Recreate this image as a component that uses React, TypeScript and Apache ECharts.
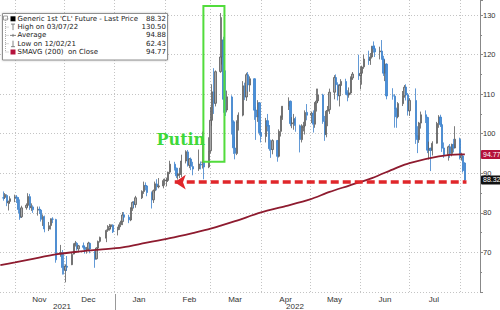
import { useEffect, useRef } from 'react';
import * as echarts from 'echarts';

type Row = [string, number, number, number, number]; // date, open, close, low, high

const oct21: Row[] = [
  ['2021-10-25', 83.8, 83.76, 83.08, 85.41],
  ['2021-10-26', 83.9, 84.65, 83.5, 85.0],
  ['2021-10-27', 84.4, 82.66, 81.7, 84.7],
  ['2021-10-28', 82.5, 82.81, 80.6, 83.1],
  ['2021-10-29', 82.9, 83.57, 82.3, 84.2],
];
const nov21: Row[] = [
  ['2021-11-01', 83.7, 84.05, 82.7, 84.6],
  ['2021-11-02', 84.0, 83.91, 82.5, 84.5],
  ['2021-11-03', 83.8, 80.86, 79.9, 84.0],
  ['2021-11-04', 81.0, 78.81, 78.25, 83.4],
  ['2021-11-05', 79.0, 81.27, 78.7, 81.8],
  ['2021-11-08', 81.3, 81.93, 80.8, 82.4],
  ['2021-11-09', 81.9, 84.15, 81.5, 84.97],
  ['2021-11-10', 84.1, 81.34, 80.75, 84.8],
  ['2021-11-11', 81.3, 81.59, 80.5, 82.4],
  ['2021-11-12', 81.5, 80.79, 80.0, 81.9],
  ['2021-11-15', 80.7, 80.88, 79.3, 81.6],
  ['2021-11-16', 80.9, 80.76, 79.7, 81.6],
  ['2021-11-17', 80.7, 78.36, 77.8, 80.9],
  ['2021-11-18', 78.3, 79.01, 76.7, 79.6],
  ['2021-11-19', 79.0, 75.94, 75.1, 79.3],
  ['2021-11-22', 75.9, 76.75, 75.4, 77.7],
  ['2021-11-23', 76.8, 78.5, 75.8, 78.6],
  ['2021-11-24', 78.4, 78.39, 77.4, 78.9],
  ['2021-11-26', 78.3, 68.15, 67.4, 78.5],
  ['2021-11-29', 69.6, 69.95, 68.9, 71.9],
  ['2021-11-30', 69.9, 66.18, 64.4, 70.6],
];
const dec21: Row[] = [
  ['2021-12-01', 66.6, 65.57, 64.43, 70.0],
  ['2021-12-02', 65.5, 66.5, 62.43, 67.0],
  ['2021-12-03', 66.5, 66.26, 65.3, 69.1],
  ['2021-12-06', 66.9, 69.49, 66.8, 70.0],
  ['2021-12-07', 69.6, 72.05, 69.5, 72.3],
  ['2021-12-08', 72.0, 72.36, 71.5, 72.9],
  ['2021-12-09', 72.3, 70.94, 70.5, 72.6],
  ['2021-12-10', 70.9, 71.67, 70.2, 71.9],
  ['2021-12-13', 71.7, 71.29, 70.7, 72.5],
  ['2021-12-14', 71.3, 70.73, 69.7, 71.5],
  ['2021-12-15', 70.7, 70.87, 69.7, 71.4],
  ['2021-12-16', 70.9, 72.38, 70.6, 72.7],
  ['2021-12-17', 72.3, 70.86, 69.8, 72.5],
  ['2021-12-20', 70.1, 68.23, 66.12, 70.4],
  ['2021-12-21', 68.4, 71.12, 68.2, 71.3],
  ['2021-12-22', 71.1, 72.76, 70.6, 73.0],
  ['2021-12-23', 72.8, 73.79, 72.5, 74.0],
  ['2021-12-27', 73.6, 75.57, 72.6, 75.8],
  ['2021-12-28', 75.6, 75.98, 75.2, 76.9],
  ['2021-12-29', 76.0, 76.56, 75.5, 77.2],
  ['2021-12-30', 76.5, 76.99, 75.8, 77.0],
  ['2021-12-31', 76.9, 75.21, 74.9, 77.1],
];
const jan22: Row[] = [
  ['2022-01-03', 75.7, 76.08, 74.3, 76.5],
  ['2022-01-04', 76.1, 76.99, 75.7, 77.6],
  ['2022-01-05', 77.0, 77.85, 76.4, 78.0],
  ['2022-01-06', 77.8, 79.46, 76.9, 80.2],
  ['2022-01-07', 79.5, 78.9, 78.1, 80.2],
  ['2022-01-10', 78.9, 78.23, 77.4, 79.5],
  ['2022-01-11', 78.2, 81.22, 77.9, 81.4],
  ['2022-01-12', 81.2, 82.64, 80.5, 82.9],
  ['2022-01-13', 82.6, 82.12, 81.2, 83.0],
  ['2022-01-14', 82.1, 83.82, 81.3, 84.3],
  ['2022-01-18', 83.8, 85.43, 83.5, 85.7],
  ['2022-01-19', 85.4, 86.96, 84.8, 87.9],
  ['2022-01-20', 86.9, 86.9, 85.7, 87.7],
  ['2022-01-21', 86.8, 85.14, 84.2, 87.0],
  ['2022-01-24', 85.1, 83.31, 81.1, 85.4],
  ['2022-01-25', 83.3, 85.6, 82.5, 85.9],
  ['2022-01-26', 85.6, 87.35, 85.0, 87.9],
  ['2022-01-27', 87.3, 86.61, 85.7, 88.5],
  ['2022-01-28', 86.6, 86.82, 86.2, 88.8],
  ['2022-01-31', 86.8, 88.15, 86.2, 88.6],
];
const feb22: Row[] = [
  ['2022-02-01', 88.1, 88.2, 86.9, 88.7],
  ['2022-02-02', 88.2, 88.26, 86.7, 88.9],
  ['2022-02-03', 88.2, 90.27, 87.8, 90.4],
  ['2022-02-04', 90.3, 92.31, 89.8, 93.17],
  ['2022-02-07', 92.3, 91.32, 90.7, 92.9],
  ['2022-02-08', 91.3, 89.36, 88.8, 91.4],
  ['2022-02-09', 89.4, 89.66, 88.4, 90.1],
  ['2022-02-10', 89.7, 89.88, 88.8, 91.4],
  ['2022-02-11', 89.9, 93.1, 89.0, 94.7],
  ['2022-02-14', 93.1, 95.46, 92.5, 95.82],
  ['2022-02-15', 95.4, 92.07, 91.7, 95.9],
  ['2022-02-16', 92.0, 93.66, 91.3, 93.8],
  ['2022-02-17', 93.6, 91.76, 90.8, 94.0],
  ['2022-02-18', 91.7, 91.07, 89.5, 92.9],
  ['2022-02-22', 91.1, 92.35, 90.6, 96.0],
  ['2022-02-23', 92.3, 92.1, 91.0, 93.0],
  ['2022-02-24', 92.8, 92.81, 91.2, 100.54],
  ['2022-02-25', 92.8, 91.59, 88.5, 94.0],
  ['2022-02-28', 91.6, 95.72, 91.3, 99.1],
];
const mar22: Row[] = [
  ['2022-03-01', 95.7, 103.41, 95.0, 106.78],
  ['2022-03-02', 103.4, 110.6, 102.0, 112.51],
  ['2022-03-03', 110.6, 107.67, 105.0, 116.57],
  ['2022-03-04', 107.7, 115.68, 106.9, 116.0],
  ['2022-03-07', 115.7, 119.4, 115.4, 130.5],
  ['2022-03-08', 119.4, 123.7, 117.5, 129.44],
  ['2022-03-09', 123.7, 108.7, 105.3, 124.5],
  ['2022-03-10', 108.7, 106.02, 104.5, 116.0],
  ['2022-03-11', 106.0, 109.33, 105.4, 110.9],
  ['2022-03-14', 109.3, 103.01, 99.8, 109.7],
  ['2022-03-15', 103.0, 96.44, 94.9, 103.4],
  ['2022-03-16', 96.4, 95.04, 93.53, 99.2],
  ['2022-03-17', 95.0, 102.98, 94.6, 103.4],
  ['2022-03-18', 103.0, 104.7, 100.8, 105.4],
  ['2022-03-21', 104.7, 112.12, 104.4, 113.3],
  ['2022-03-22', 112.1, 109.27, 108.5, 112.9],
  ['2022-03-23', 109.3, 114.93, 108.3, 115.4],
  ['2022-03-24', 114.9, 112.34, 110.7, 115.6],
  ['2022-03-25', 112.3, 113.9, 110.6, 114.5],
  ['2022-03-28', 113.9, 105.96, 103.5, 114.0],
  ['2022-03-29', 106.0, 104.24, 98.44, 106.8],
  ['2022-03-30', 104.2, 107.82, 103.0, 108.5],
  ['2022-03-31', 107.8, 100.28, 99.6, 108.0],
];
const apr22: Row[] = [
  ['2022-04-01', 100.3, 99.27, 97.8, 101.0],
  ['2022-04-04', 99.3, 103.28, 97.8, 104.0],
  ['2022-04-05', 103.3, 101.96, 100.6, 105.0],
  ['2022-04-06', 102.0, 96.23, 95.7, 102.2],
  ['2022-04-07', 96.2, 96.03, 93.9, 98.5],
  ['2022-04-08', 96.0, 98.26, 94.8, 98.6],
  ['2022-04-11', 98.3, 94.29, 92.93, 98.4],
  ['2022-04-12', 94.3, 100.6, 94.0, 101.1],
  ['2022-04-13', 100.6, 104.25, 99.3, 104.6],
  ['2022-04-14', 104.2, 106.95, 103.5, 106.9],
  ['2022-04-18', 106.9, 108.21, 106.0, 109.2],
  ['2022-04-19', 108.2, 102.56, 101.9, 108.4],
  ['2022-04-20', 102.5, 102.75, 101.4, 104.2],
  ['2022-04-21', 102.7, 103.79, 101.0, 105.0],
  ['2022-04-22', 103.8, 102.07, 100.5, 104.3],
  ['2022-04-25', 102.0, 98.54, 95.28, 102.3],
  ['2022-04-26', 98.5, 101.7, 97.8, 102.4],
  ['2022-04-27', 101.7, 102.02, 100.6, 103.0],
  ['2022-04-28', 102.0, 105.36, 99.8, 105.9],
  ['2022-04-29', 105.4, 104.69, 103.4, 107.5],
];
const may22: Row[] = [
  ['2022-05-02', 104.7, 105.17, 102.7, 105.6],
  ['2022-05-03', 105.2, 102.41, 100.3, 105.9],
  ['2022-05-04', 102.4, 107.81, 101.5, 108.0],
  ['2022-05-05', 107.8, 108.26, 105.6, 111.4],
  ['2022-05-06', 108.3, 109.77, 107.8, 111.4],
  ['2022-05-09', 109.8, 103.09, 102.5, 110.1],
  ['2022-05-10', 103.1, 99.76, 98.2, 104.5],
  ['2022-05-11', 99.8, 105.71, 99.1, 106.0],
  ['2022-05-12', 105.7, 106.13, 101.9, 107.0],
  ['2022-05-13', 106.1, 110.49, 105.0, 111.4],
  ['2022-05-16', 110.5, 114.2, 108.7, 114.8],
  ['2022-05-17', 114.2, 112.4, 111.2, 115.0],
  ['2022-05-18', 112.4, 109.59, 108.4, 113.0],
  ['2022-05-19', 109.6, 112.21, 106.9, 112.6],
  ['2022-05-20', 112.2, 113.23, 110.6, 113.8],
  ['2022-05-23', 113.2, 110.29, 109.9, 113.9],
  ['2022-05-24', 110.3, 109.77, 108.2, 111.0],
  ['2022-05-25', 109.8, 110.33, 109.1, 111.7],
  ['2022-05-26', 110.3, 114.09, 109.9, 114.5],
  ['2022-05-27', 114.1, 115.07, 113.6, 115.6],
  ['2022-05-31', 115.1, 114.67, 113.6, 119.98],
];
const jun22: Row[] = [
  ['2022-06-01', 114.7, 115.26, 111.2, 117.0],
  ['2022-06-02', 115.3, 116.87, 112.4, 117.2],
  ['2022-06-03', 116.9, 118.87, 116.4, 120.0],
  ['2022-06-06', 118.9, 118.5, 117.4, 120.99],
  ['2022-06-07', 118.5, 119.41, 117.4, 120.4],
  ['2022-06-08', 119.4, 122.11, 119.0, 122.2],
  ['2022-06-09', 122.1, 121.51, 120.5, 123.33],
  ['2022-06-10', 121.5, 120.67, 119.4, 122.3],
  ['2022-06-13', 120.7, 120.93, 118.8, 122.0],
  ['2022-06-14', 120.9, 118.93, 118.7, 123.68],
  ['2022-06-15', 118.9, 115.31, 114.6, 119.7],
  ['2022-06-16', 115.3, 117.59, 113.3, 118.7],
  ['2022-06-17', 117.6, 109.56, 108.7, 117.8],
  ['2022-06-21', 109.6, 109.52, 108.6, 111.5],
  ['2022-06-22', 109.5, 106.19, 101.53, 110.0],
  ['2022-06-23', 106.2, 104.27, 101.5, 106.6],
  ['2022-06-24', 104.3, 107.62, 103.9, 108.0],
  ['2022-06-27', 107.6, 109.57, 107.0, 110.8],
  ['2022-06-28', 109.6, 111.76, 109.1, 112.3],
  ['2022-06-29', 111.8, 109.78, 108.4, 112.5],
  ['2022-06-30', 109.8, 105.76, 104.6, 110.3],
];
const jul22: Row[] = [
  ['2022-07-01', 105.8, 108.43, 104.5, 109.0],
  ['2022-07-05', 108.4, 99.5, 97.43, 111.45],
  ['2022-07-06', 99.5, 98.53, 95.1, 101.9],
  ['2022-07-07', 98.5, 102.73, 97.7, 103.0],
  ['2022-07-08', 102.7, 104.79, 101.3, 105.6],
  ['2022-07-11', 104.8, 104.09, 102.7, 105.9],
  ['2022-07-12', 104.1, 95.84, 95.1, 104.3],
  ['2022-07-13', 95.8, 96.3, 93.5, 98.0],
  ['2022-07-14', 96.3, 95.78, 90.56, 96.5],
  ['2022-07-15', 95.8, 97.59, 94.5, 98.1],
  ['2022-07-18', 97.6, 102.6, 97.5, 103.0],
  ['2022-07-19', 102.6, 104.22, 101.5, 104.7],
  ['2022-07-20', 104.2, 102.26, 101.7, 104.8],
  ['2022-07-21', 102.3, 96.35, 95.4, 102.7],
  ['2022-07-22', 96.4, 94.7, 93.9, 97.8],
  ['2022-07-25', 94.7, 96.7, 93.2, 97.0],
  ['2022-07-26', 96.7, 94.98, 93.9, 97.4],
  ['2022-07-27', 95.0, 97.26, 94.3, 97.5],
  ['2022-07-28', 97.3, 96.42, 95.3, 98.7],
  ['2022-07-29', 96.4, 98.62, 96.3, 101.9],
];
const aug22: Row[] = [
  ['2022-08-01', 98.6, 93.89, 93.5, 99.0],
  ['2022-08-02', 93.9, 94.42, 93.2, 95.2],
  ['2022-08-03', 94.4, 90.66, 90.2, 94.9],
  ['2022-08-04', 92.6, 88.32, 87.8, 92.8],
];

// 200-day simple moving average
const sma200: [string, number][] = [
  ['2021-10-23', 66.8], ['2021-11-01', 67.5], ['2021-11-12', 68.4], ['2021-11-26', 69.5],
  ['2021-12-10', 70.2], ['2021-12-23', 70.7], ['2022-01-06', 71.3], ['2022-01-20', 72.4],
  ['2022-02-04', 73.6], ['2022-02-18', 74.9], ['2022-03-01', 76.0], ['2022-03-16', 77.9],
  ['2022-04-01', 80.1], ['2022-04-16', 81.7], ['2022-05-01', 83.4], ['2022-05-13', 85.3],
  ['2022-05-25', 86.9], ['2022-06-08', 88.8], ['2022-06-22', 91.2], ['2022-07-01', 92.6],
  ['2022-07-19', 94.3], ['2022-08-01', 94.8], ['2022-08-04', 94.77],
];

const monthStarts = [
  '2021-11-01', '2021-12-01', '2022-01-01', '2022-02-01', '2022-03-01',
  '2022-04-01', '2022-05-01', '2022-06-01', '2022-07-01', '2022-08-01',
];
const priceLevels = [60, 70, 80, 90, 100, 110, 120, 130];
const monthNames = ['Jan', 'Feb', 'Mar', 'Apr', 'May', 'Jun', 'Jul', 'Aug', 'Sep', 'Oct', 'Nov', 'Dec'];
const yearLabels = ['2021', '2022'];

const legendLabels = [
  "Generic 1st 'CL' Future - Last Price",
  'High on 03/07/22',
  'Average',
  'Low on 12/02/21',
  'SMAVG (200)  on Close',
];
const legendValues = ['88.32', '130.50', '94.88', '62.43', '94.77'];

const lastPrice = 88.32;
const smaLast = 94.77;

// annotations
const supportLevel = 87.75;
const supportFrom = '2022-02-07';
const supportTo = '2022-08-05';
const putinBox = { from: '2022-02-24 14:00', to: '2022-03-09 12:00', low: 92.9, high: 132.3 };
const putinText = 'Putin';
const putinAnchor: [string, number] = ['2022-02-10 18:00', 98.5];

const ts = (s: string): number => {
  const [d, t] = s.split(' ');
  const [y, m, dd] = d.split('-').map(Number);
  const [hh, mm] = (t || '0:0').split(':').map(Number);
  return new Date(y, m - 1, dd, hh, mm).getTime();
};

const FONT = 'Liberation Sans, Arial, sans-serif';
const LEGEND_FONT = 'DejaVu Sans, Verdana, sans-serif';
const DAY = 86400000;

export default function App() {
  const ref = useRef<HTMLDivElement>(null);

  useEffect(() => {
    if (!ref.current) return;
    const chart = echarts.init(ref.current, undefined, { renderer: 'svg' });
    const candles = [...oct21, ...nov21, ...dec21, ...jan22, ...feb22, ...mar22, ...apr22, ...may22, ...jun22, ...jul22, ...aug22];
    const xMin = ts('2021-10-22 19:00');
    const xMax = ts('2022-08-13 07:00');
    const labelShift = 15 * DAY;

    const legendEls: any[] = [
      {
        type: 'rect', z: 100,
        shape: { x: 2.5, y: 13.5, width: 165, height: 46.5 },
        style: { fill: '#fff', stroke: '#8f8f8f', lineWidth: 1, shadowBlur: 2, shadowColor: 'rgba(0,0,0,0.25)' },
      },
      { type: 'rect', z: 101, shape: { x: 3.5, y: 16, width: 4, height: 4 }, style: { fill: '#fff', stroke: '#888', lineWidth: 0.8 } },
      { type: 'line', z: 101, shape: { x1: 5.5, y1: 20, x2: 5.5, y2: 52 }, style: { stroke: '#999', lineWidth: 0.8, lineDash: [1, 1] } },
    ];
    legendLabels.forEach((lab, i) => {
      const y = 18.8 + i * 8.3;
      legendEls.push({ type: 'line', z: 101, shape: { x1: 5.5, y1: y, x2: 9.5, y2: y }, style: { stroke: '#999', lineWidth: 0.8, lineDash: [1, 1] } });
      legendEls.push({
        type: 'text', z: 101, x: 17.5, y,
        style: { text: lab, fill: '#222', fontSize: 7, fontFamily: LEGEND_FONT, verticalAlign: 'middle', align: 'left' },
      });
      legendEls.push({
        type: 'text', z: 101, x: 166, y,
        style: { text: legendValues[i], fill: '#222', fontSize: 7, fontFamily: LEGEND_FONT, verticalAlign: 'middle', align: 'right' },
      });
    });
    const iy = (i: number) => 18.8 + i * 8.3;
    legendEls.push(
      { type: 'rect', z: 101, shape: { x: 10.5, y: iy(0) - 2.5, width: 5, height: 5 }, style: { fill: '#000' } },
      { type: 'line', z: 101, shape: { x1: 13, y1: iy(1) - 3, x2: 13, y2: iy(1) + 3 }, style: { stroke: '#666', lineWidth: 0.8 } },
      { type: 'line', z: 101, shape: { x1: 11, y1: iy(1) - 3, x2: 15, y2: iy(1) - 3 }, style: { stroke: '#666', lineWidth: 0.8 } },
      { type: 'line', z: 101, shape: { x1: 10, y1: iy(2), x2: 16, y2: iy(2) }, style: { stroke: '#666', lineWidth: 0.8 } },
      { type: 'line', z: 101, shape: { x1: 13, y1: iy(2) - 1.5, x2: 13, y2: iy(2) + 1.5 }, style: { stroke: '#666', lineWidth: 0.8 } },
      { type: 'line', z: 101, shape: { x1: 13, y1: iy(3) - 3, x2: 13, y2: iy(3) + 3 }, style: { stroke: '#666', lineWidth: 0.8 } },
      { type: 'line', z: 101, shape: { x1: 11, y1: iy(3) + 3, x2: 15, y2: iy(3) + 3 }, style: { stroke: '#666', lineWidth: 0.8 } },
      { type: 'rect', z: 101, shape: { x: 10.5, y: iy(4) - 2.5, width: 5, height: 5 }, style: { fill: '#b5123c' } },
    );

    const yearEls: any[] = [
      { type: 'text', x: 62, y: 306.5, style: { text: yearLabels[0], fill: '#333', fontSize: 8, fontFamily: FONT, align: 'center', verticalAlign: 'middle' } },
      { type: 'text', x: 295, y: 306.5, style: { text: yearLabels[1], fill: '#333', fontSize: 8, fontFamily: FONT, align: 'center', verticalAlign: 'middle' } },
      { type: 'line', shape: { x1: 115.5, y1: 294, x2: 115.5, y2: 310 }, style: { stroke: '#999', lineWidth: 1 } },
    ];

    const option: any = {
      animation: false,
      backgroundColor: '#fff',
      grid: { left: 0, right: 20, top: 0, bottom: 18, containLabel: false, outerBoundsMode: 'none' },
      xAxis: [
        {
          type: 'time', min: xMin, max: xMax,
          axisLine: { show: false }, axisTick: { show: false }, axisLabel: { show: false }, splitLine: { show: false },
        },
        {
          type: 'time', position: 'bottom', min: xMin - labelShift, max: xMax - labelShift, splitNumber: 10,
          axisLine: { show: false }, axisTick: { show: false }, splitLine: { show: false },
          axisLabel: {
            show: true, fontSize: 8, color: '#333', fontFamily: FONT, margin: 3, hideOverlap: false,
            formatter: (v: number) => {
              const d = new Date(v);
              return d.getDate() === 1 && d.getHours() === 0 ? monthNames[d.getMonth()] : '';
            },
          },
        },
      ],
      yAxis: {
        type: 'value', position: 'right', min: 60, max: 133.8, interval: 10,
        axisLine: { show: true, lineStyle: { color: '#888', width: 1 } },
        axisTick: { show: true, inside: false, length: 3, lineStyle: { color: '#888' } },
        minorTick: { show: true, splitNumber: 2, length: 2, lineStyle: { color: '#888' } },
        splitLine: { show: false },
        axisLabel: {
          show: true, fontSize: 7.5, color: '#333', fontFamily: FONT, margin: 3,
          showMinLabel: false, showMaxLabel: false,
          formatter: (v: number) => (Math.abs(v % 10) < 1e-6 && v > 60 ? String(v) : ''),
        },
      },
      series: [
        {
          type: 'candlestick', xAxisIndex: 0, yAxisIndex: 0, z: 2,
          data: candles.map((r) => [ts(r[0]), r[1], r[2], r[3], r[4]]),
          barWidth: 1.8,
          itemStyle: {
            color: '#a8a8a8', color0: '#4a90d9',
            borderColor: '#5a5a5a', borderColor0: '#3b80cc', borderWidth: 0.8,
          },
          markArea: {
            silent: true, z: 4,
            itemStyle: { color: 'rgba(0,0,0,0)', borderColor: '#52dc3c', borderWidth: 2 },
            data: [[{ coord: [ts(putinBox.from), putinBox.low] }, { coord: [ts(putinBox.to), putinBox.high] }]],
          },
          markPoint: {
            silent: true, symbol: 'rect', symbolSize: 1,
            itemStyle: { color: 'rgba(0,0,0,0)' },
            label: {
              show: true, position: 'inside', formatter: putinText,
              fontFamily: 'DejaVu Serif, serif', fontWeight: 'bold', fontSize: 16, color: '#3fd83a',
            },
            data: [{ coord: [ts(putinAnchor[0]), putinAnchor[1]] }],
          },
          markLine: {
            silent: true, z: 5, symbol: ['none', 'none'],
            label: { show: false },
            lineStyle: { color: '#e0262a', width: 3.5, type: [8, 4] },
            data: [
              {
                yAxis: lastPrice,
                lineStyle: { color: 'rgba(0,0,0,0)', width: 0 },
                label: {
                  show: true, position: 'end', distance: 1, formatter: lastPrice.toFixed(2),
                  color: '#fff', backgroundColor: '#111', padding: [1, 2, 1, 2], borderRadius: 1,
                  fontSize: 7, fontFamily: FONT,
                },
              },
              [
                { coord: [ts(supportFrom), supportLevel], symbol: 'arrow', symbolSize: [11, 11] },
                { coord: [ts(supportTo), supportLevel], symbol: 'none' },
              ],
            ],
          },
        },
        {
          type: 'line', xAxisIndex: 0, yAxisIndex: 0, z: 3,
          data: sma200.map(([d, v]) => [ts(d), v]),
          smooth: 0.3, symbol: 'none', showSymbol: false,
          lineStyle: { color: '#8e1b2f', width: 1.8 },
          markLine: {
            silent: true, z: 1, symbol: ['none', 'none'],
            label: { show: false },
            lineStyle: { color: '#c4c4c4', width: 1, type: [1, 2] },
            data: [
              ...monthStarts.map((m) => ({ xAxis: ts(m) })),
              ...priceLevels.map((p) => ({ yAxis: p })),
              {
                yAxis: smaLast,
                lineStyle: { color: 'rgba(0,0,0,0)', width: 0 },
                label: {
                  show: true, position: 'end', distance: 1, formatter: smaLast.toFixed(2),
                  color: '#fff', backgroundColor: '#b5123c', padding: [1, 2, 1, 2], borderRadius: 1,
                  fontSize: 7, fontFamily: FONT,
                },
              },
            ],
          },
        },
      ],
      graphic: { elements: [...legendEls, ...yearEls] },
    };

    chart.setOption(option);
    return () => chart.dispose();
  }, []);

  return (
    <div style={{ position: 'fixed', left: 0, top: 0, width: 500, height: 310, background: '#fff' }}>
      <div ref={ref} style={{ width: 500, height: 310 }} />
    </div>
  );
}
